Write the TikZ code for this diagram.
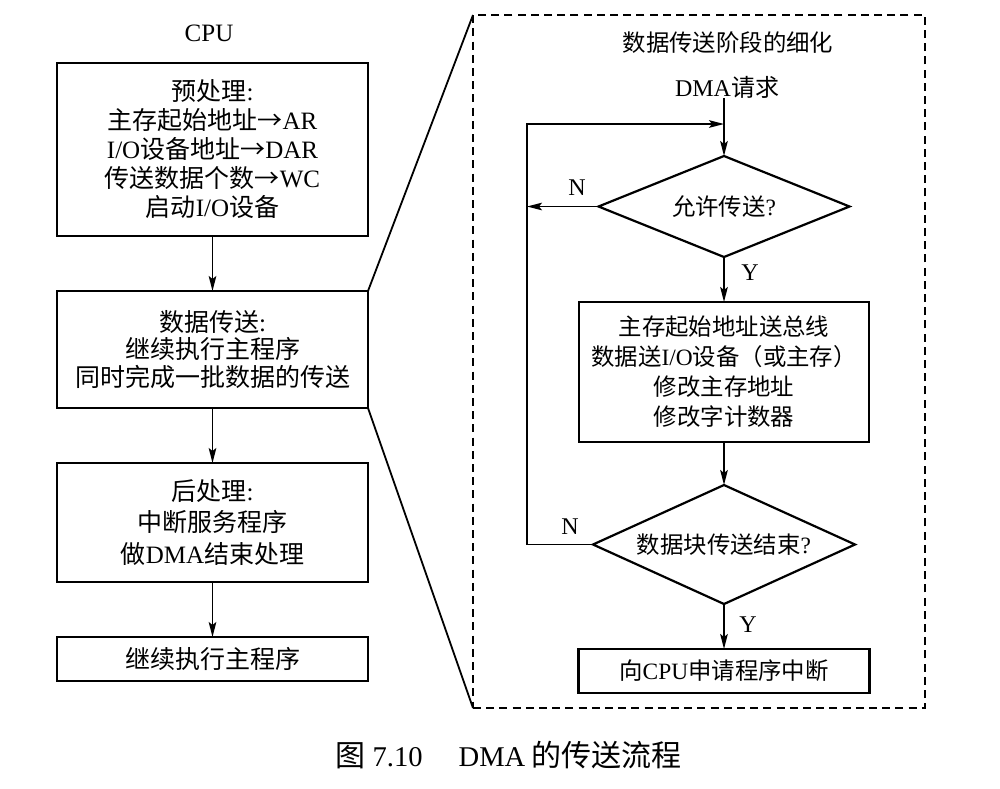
\documentclass[tikz,border=0pt]{standalone}
\usepackage{fontspec}
\setmainfont{Liberation Serif}
\newfontfamily\cjk{Noto Sans CJK SC}
\newcommand\zh[1]{{\cjk #1}}
\usetikzlibrary{arrows.meta,shapes.geometric}
\begin{document}
\begin{tikzpicture}[x=0.5pt,y=-0.5pt,
  box/.style={draw, line width=1.1pt, inner sep=0pt, outer sep=0pt, align=center,
    minimum width=155.5pt, font=\fontsize{12.5}{14.5}\selectfont},
  rbox/.style={draw, line width=1.1pt, inner sep=0pt, outer sep=0pt, align=center,
    minimum width=145pt, font=\fontsize{11.7}{15}\selectfont},
  dec/.style={draw, diamond, line width=1.1pt, inner sep=0pt, outer sep=0pt,
    font=\fontsize{11.7}{14}\selectfont},
  arr/.style={-{Stealth[length=7.5pt,width=3.8pt,inset=1.5pt]}, line width=0.9pt},
  lnk/.style={line width=0.9pt},
  lbl/.style={inner sep=0pt, font=\fontsize{12}{14}\selectfont},
]
\useasboundingbox (0,0) rectangle (1000,788);

% left column
\node[lbl, font=\fontsize{12.5}{14}\selectfont] (cpu) at (209,33) {CPU};
\node[box, minimum height=86.5pt] (b1) at (212.5,149.5)
  {\zh{预处理}:\\ \zh{主存起始地址→}AR\\ I/O\zh{设备地址→}DAR\\ \zh{传送数据个数→}WC\\ \zh{启动}I/O\zh{设备}};
\node[box, minimum height=58.5pt, font=\fontsize{12.5}{13.9}\selectfont] (b2) at (212.5,349.5)
  {\zh{数据传送}:\\ \zh{继续执行主程序}\\ \zh{同时完成一批数据的传送}};
\node[box, minimum height=59.5pt, font=\fontsize{12.5}{15.7}\selectfont] (b3) at (212.5,522.5)
  {\zh{后处理}:\\ \zh{中断服务程序}\\ \zh{做}DMA\zh{结束处理}};
\node[box, minimum height=22pt] (b4) at (212.5,659) {\zh{继续执行主程序}};

\draw[arr] (b1.south) -- (b2.north);
\draw[arr] (b2.south) -- (b3.north);
\draw[arr] (b3.south) -- (b4.north);

% detail frame
\node[draw, dashed, dash pattern=on 4pt off 2.6pt, line width=0.9pt, inner sep=0pt, outer sep=0pt,
  minimum width=226pt, minimum height=346.5pt] (frame) at (699,361.5) {};
\draw[lnk] (b2.north east) -- (frame.north west);
\draw[lnk] (b2.south east) -- (frame.south west);

\node[lbl, font=\fontsize{11.7}{14}\selectfont] (title) at (728,43) {\zh{数据传送阶段的细化}};
\node[lbl, font=\fontsize{12}{14}\selectfont] (req) at (727,87) {DMA\zh{请求}};

\node[dec, aspect=2.485, minimum width=125.5pt, minimum height=50.5pt] (d1) at (724,206.5)
  {\zh{允许传送}?};
\node[rbox, minimum height=70pt] (b5) at (724,372)
  {\zh{主存起始地址送总线}\\ \zh{数据送}I/O\zh{设备（或主存）}\\ \zh{修改主存地址}\\ \zh{修改字计数器}};
\node[dec, aspect=2.2, minimum width=131pt, minimum height=59.5pt] (d2) at (724,544.5)
  {\zh{数据块传送结束}?};
\node[rbox, minimum width=145.5pt, minimum height=22pt] (b6) at (724,671)
  {\zh{向}CPU\zh{申请程序中断}};

\coordinate (lx) at (527,0);
\coordinate (top) at (724,124);

\draw[arr] (req.south -| d1.north) -- (d1.north);
\draw[arr] (d1.west) -- (d1.west -| lx);
\draw[arr] (d2.west) -- (d2.west -| lx) -- (lx |- top) -- (top);
\draw[arr] (d1.south) -- (b5.north);
\draw[arr] (b5.south) -- (d2.north);
\draw[arr] (d2.south) -- (b6.north);

\node[lbl] (n1) at (577,188) {N};
\node[lbl] (n2) at (570,527) {N};
\node[lbl] (y1) at (750,273) {Y};
\node[lbl] (y2) at (748,625) {Y};

% caption
\node[lbl, font=\fontsize{14.3}{16}\selectfont] (cap) at (508.5,755)
  {{\fontsize{15}{16}\selectfont\zh{图}}\hspace{3.5pt}7.10\hspace{18pt}DMA\hspace{3pt}{\fontsize{15}{16}\selectfont\zh{的传送流程}}};
\end{tikzpicture}
\end{document}
